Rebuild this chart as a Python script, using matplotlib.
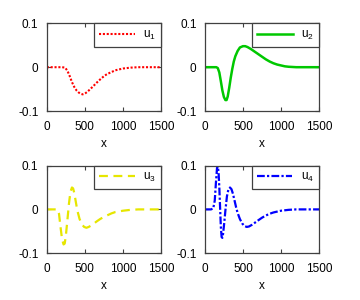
import matplotlib
matplotlib.use('Agg')
import matplotlib.pyplot as plt

plt.rcParams['font.family'] = ['Liberation Sans', 'DejaVu Sans']
plt.rcParams['mathtext.fontset'] = 'custom'
plt.rcParams['mathtext.rm'] = 'Liberation Sans'
plt.rcParams['axes.unicode_minus'] = False
plt.rcParams['font.size'] = 8.5

# Mode shapes
x1 = [0, 100, 200, 240, 270, 300, 330, 360, 390, 420, 450, 470, 490, 510, 540, 570, 600,
      640, 680, 720, 760, 800, 850, 900, 950, 1000, 1050, 1100, 1200, 1300, 1400, 1500]
u1 = [0, 0, 0, -0.001, -0.008, -0.02, -0.034, -0.045, -0.053, -0.058, -0.061, -0.062, -0.061,
      -0.059, -0.055, -0.050, -0.045, -0.038, -0.031, -0.025, -0.019, -0.015, -0.011, -0.007,
      -0.005, -0.003, -0.002, -0.001, 0, 0, 0, 0]

x2 = [0, 100, 150, 170, 190, 210, 230, 250, 270, 285, 300, 320, 340, 360, 380, 400, 430,
      460, 500, 530, 560, 600, 650, 700, 750, 800, 850, 900, 950, 1000, 1050, 1100, 1200, 1500]
u2 = [0, 0, 0, -0.002, -0.012, -0.032, -0.053, -0.068, -0.075, -0.075, -0.067, -0.047,
      -0.024, -0.004, 0.013, 0.025, 0.037, 0.045, 0.048, 0.048, 0.046, 0.042, 0.036, 0.030,
      0.024, 0.018, 0.013, 0.009, 0.006, 0.004, 0.002, 0.001, 0, 0]

x3 = [0, 100, 140, 160, 180, 200, 220, 235, 250, 270, 290, 310, 330, 345, 360, 380, 400,
      430, 460, 490, 520, 550, 600, 650, 700, 750, 800, 850, 900, 1000, 1100, 1200, 1500]
u3 = [0, 0, 0, -0.01, -0.04, -0.068, -0.08, -0.078, -0.06, -0.025, 0.012, 0.040, 0.05,
      0.048, 0.038, 0.018, -0.002, -0.022, -0.034, -0.04, -0.042, -0.04, -0.035, -0.028,
      -0.022, -0.017, -0.013, -0.009, -0.006, -0.003, -0.001, 0, 0]

x4 = [0, 80, 110, 130, 145, 160, 170, 180, 190, 200, 210, 220, 230, 240, 255, 270, 290,
      310, 330, 350, 370, 390, 410, 430, 460, 490, 520, 550, 580, 620, 660, 700, 750, 800,
      850, 900, 950, 1000, 1100, 1200, 1500]
u4 = [0, 0, 0.002, 0.02, 0.06, 0.095, 0.098, 0.085, 0.05, 0.005, -0.04, -0.063, -0.065,
      -0.055, -0.03, -0.002, 0.03, 0.046, 0.05, 0.046, 0.035, 0.02, 0.005, -0.008, -0.022,
      -0.032, -0.038, -0.04, -0.039, -0.035, -0.03, -0.025, -0.019, -0.014, -0.010, -0.007,
      -0.005, -0.003, -0.001, 0, 0]

series = [
    (x1, u1, r'$\mathregular{u_1}$', '#ff0000', (0, (1, 0.85)), 1.5),
    (x2, u2, r'$\mathregular{u_2}$', '#00c800', '-', 1.8),
    (x3, u3, r'$\mathregular{u_3}$', '#e6e600', (0, (4, 2.5)), 1.6),
    (x4, u4, r'$\mathregular{u_4}$', '#0000ff', (0, (3.5, 1, 1, 1)), 1.6),
]

# axes boxes in figure fractions
lefts = [0.13, 0.569, 0.13, 0.569]
bottoms = [0.63, 0.63, 0.156, 0.156]
frame = '#404040'

fig = plt.figure(figsize=(3.6, 3.0), dpi=100)
for (x, y, lab, col, ls, lw), l, b in zip(series, lefts, bottoms):
    ax = fig.add_axes([l, b, 0.3175, 0.292])
    ax.plot(x, y, color=col, linestyle=ls, linewidth=lw, label=lab)
    ax.set_xlim(0, 1500)
    ax.set_ylim(-0.1, 0.1)
    ax.set_xticks([0, 500, 1000, 1500])
    ax.set_yticks([-0.1, 0, 0.1])
    ax.set_yticklabels(['-0.1', '0', '0.1'])
    ax.tick_params(direction='in', top=True, right=True, length=3, width=0.8,
                   color=frame, pad=7)
    ax.tick_params(axis='y', pad=6)
    for s in ax.spines.values():
        s.set_color(frame)
        s.set_linewidth(0.9)
    ax.set_xlabel('x', labelpad=4)
    leg = ax.legend(loc='upper right', borderaxespad=0, fancybox=False,
                    handlelength=3.0, handletextpad=0.7, borderpad=0.45,
                    framealpha=1)
    leg.get_frame().set_edgecolor(frame)
    leg.get_frame().set_linewidth(0.9)

fig.savefig('out.png', dpi=100)
